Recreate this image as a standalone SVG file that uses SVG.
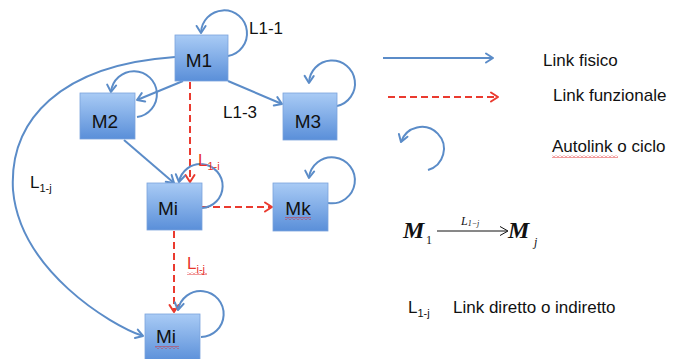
<svg xmlns="http://www.w3.org/2000/svg" width="673" height="359" viewBox="0 0 673 359">
  <style>
    .box { fill: url(#boxFill); stroke: #7aa3dc; stroke-width: 0.8; }
    .lbl { font-family: "Liberation Sans", Arial, sans-serif; font-size: 19px; fill: #111; text-anchor: middle; }
    .txt { font-family: "Liberation Sans", Arial, sans-serif; font-size: 17px; fill: #111; }
    .sub { font-size: 11px; }
    .red { fill: #e8352b; }
    .phys { fill: none; stroke: #5b8cc8; stroke-width: 2; marker-end: url(#ahBlue); }
    .func { fill: none; stroke: #ea3a2f; stroke-width: 2; stroke-dasharray: 7 4; marker-end: url(#ahRed); }
    .math { font-family: "Liberation Serif", "Times New Roman", serif; fill: #111; }
  </style>
  <defs>
    <linearGradient id="boxFill" x1="0" y1="0" x2="0" y2="1">
      <stop offset="0" stop-color="#a9cbf5"/>
      <stop offset="1" stop-color="#5a8fd9"/>
    </linearGradient>
    <marker id="ahBlue" markerUnits="userSpaceOnUse" markerWidth="12" markerHeight="12" viewBox="0 0 12 12" refX="10" refY="6" orient="auto">
      <path d="M3,1.5 L10,6 L3,10.5" fill="none" stroke="#5b8cc8" stroke-width="2" stroke-linecap="round" stroke-linejoin="round"/>
    </marker>
    <marker id="ahRed" markerUnits="userSpaceOnUse" markerWidth="12" markerHeight="12" viewBox="0 0 12 12" refX="10" refY="6" orient="auto">
      <path d="M3,1.5 L10,6 L3,10.5" fill="none" stroke="#ea3a2f" stroke-width="2" stroke-linecap="round" stroke-linejoin="round"/>
    </marker>
    <!-- spell-check style wavy underline -->
    <pattern id="squiggle" patternUnits="userSpaceOnUse" width="4" height="3">
      <path d="M0,2.5 L2,0.5 L4,2.5" fill="none" stroke="#e02020" stroke-width="0.9"/>
    </pattern>
  </defs>

  <!-- connectors -->
  <g id="connectors">
    <path class="phys" d="M183,81 L137,100"/>
    <path class="phys" d="M228,81 L282,104"/>
    <path class="phys" d="M124,140 L174,183"/>
    <path class="phys" d="M175,57 C60,65 9,120 13,190 C20,270 110,325 143,336"/>
    <path class="func" d="M190,82 L190,182"/>
    <path class="func" d="M202,207 L272,207"/>
    <path class="func" d="M174,231 L174,312"/>
    <!-- self loops -->
    <path class="phys" d="M228,56 A23,23 0 1 0 201,33"/>
    <path class="phys" d="M137,117 A23,23 0 1 0 111,92"/>
    <path class="phys" d="M337,106 A23,23 0 1 0 309,83"/>
    <path class="phys" d="M328,203 A23,23 0 1 0 309,178"/>
    <path class="phys" d="M202,208 A22,22 0 1 0 179,182"/>
    <path class="phys" d="M201,337 A23,23 0 1 0 178,310"/>
  </g>

  <!-- nodes -->
  <g id="node-m1">
    <rect class="box" x="175" y="35" width="53" height="46"/>
    <text class="lbl" x="199" y="67">M1</text>
  </g>
  <g id="node-m2">
    <rect class="box" x="80" y="93" width="55" height="46"/>
    <text class="lbl" x="105" y="128">M2</text>
  </g>
  <g id="node-m3">
    <rect class="box" x="283" y="93" width="54" height="47"/>
    <text class="lbl" x="308" y="128">M3</text>
  </g>
  <g id="node-mi">
    <rect class="box" x="147" y="183" width="55" height="47"/>
    <text class="lbl" x="168" y="215">Mi</text>
  </g>
  <g id="node-mk">
    <rect class="box" x="273" y="183" width="55" height="48"/>
    <text class="lbl" x="298" y="215">Mk</text>
    <rect x="285" y="217" width="26" height="3" fill="url(#squiggle)"/>
  </g>
  <g id="node-mj">
    <rect class="box" x="145" y="314" width="55" height="48"/>
    <text class="lbl" x="166" y="343">Mi</text>
    <rect x="155" y="346" width="24" height="3" fill="url(#squiggle)"/>
  </g>

  <!-- link labels -->
  <g id="link-labels">
    <text class="txt" x="249" y="34">L1-1</text>
    <text class="txt" x="223" y="118">L1-3</text>
    <text class="txt red" x="198" y="166" font-size="16">L<tspan class="sub" dy="4">1-i</tspan></text>
    <text class="txt" x="30" y="188" font-size="16">L<tspan class="sub" dy="4">1-j</tspan></text>
    <text class="txt red" x="187" y="269" font-size="16">L<tspan class="sub" dy="4">i-j</tspan></text>
    <rect x="187" y="272" width="20" height="3" fill="url(#squiggle)"/>
  </g>

  <!-- legend -->
  <g id="legend">
    <path class="phys" d="M383,58 L493,58"/>
    <text class="txt" x="543" y="66">Link fisico</text>
    <path class="func" d="M388,97 L498,97"/>
    <text class="txt" x="553" y="101">Link funzionale</text>
    <path class="phys" d="M428,170 A22,22 0 1 0 401,142"/>
    <text class="txt" x="552" y="152">Autolink o ciclo</text>
    <rect x="552" y="155" width="66" height="3" fill="url(#squiggle)"/>

    <!-- formula: M1, labelled arrow, Mj -->
    <text class="math" x="403" y="238" font-size="24" font-weight="bold" font-style="italic">M</text>
    <text class="math" x="426" y="244" font-size="12">1</text>
    <line x1="437" y1="231" x2="507" y2="231" stroke="#111" stroke-width="1"/>
    <path d="M500,226.5 L508,231 L500,235.5" fill="none" stroke="#111" stroke-width="1"/>
    <text class="math" x="461" y="225" font-size="12" font-style="italic">L<tspan font-size="8" dy="1">1−</tspan><tspan font-size="8">j</tspan></text>
    <text class="math" x="508" y="238" font-size="24" font-weight="bold" font-style="italic">M</text>
    <text class="math" x="534" y="246" font-size="12" font-style="italic">j</text>

    <text class="txt" x="408" y="313" font-size="16">L<tspan class="sub" dy="4">1-j</tspan></text>
    <text class="txt" x="453" y="313" font-size="18">Link diretto o indiretto</text>
  </g>
</svg>
